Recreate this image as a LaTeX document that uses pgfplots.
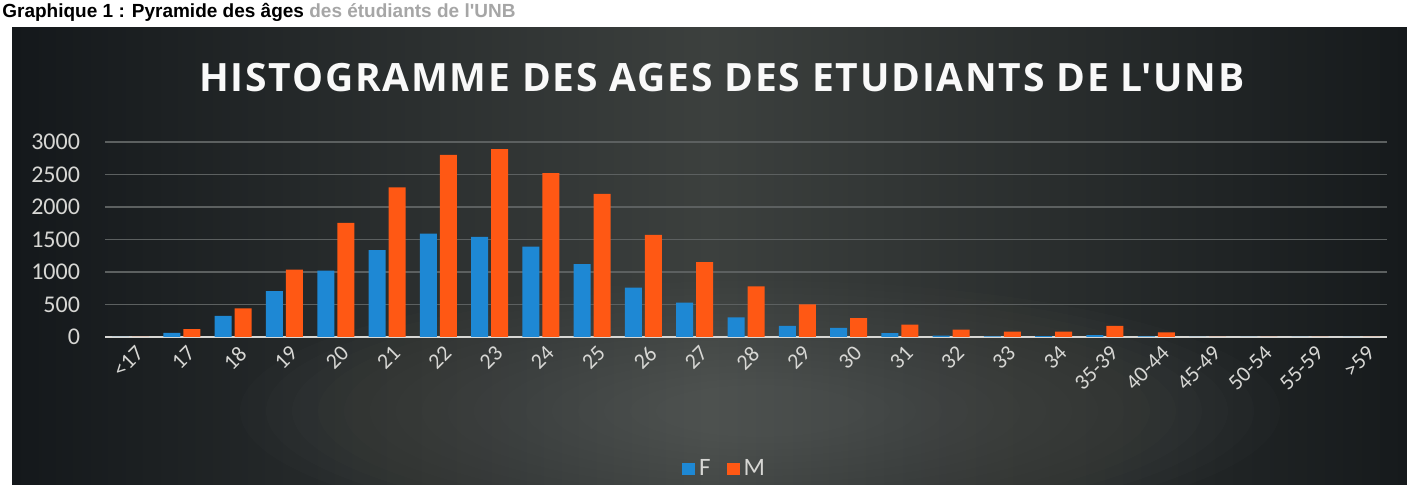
\documentclass[border=0pt]{standalone}
\usepackage{fontspec}
\setmainfont{Carlito}
\newfontfamily\titlefont[LetterSpace=4.5]{Open Sans}
\newfontfamily\capfont{Liberation Sans}
\usepackage{pgfplots}
\pgfplotsset{compat=1.18}
\definecolor{barF}{RGB}{30,136,212}
\definecolor{barM}{RGB}{255,88,20}
\definecolor{txt}{RGB}{215,215,212}
\definecolor{gridc}{RGB}{92,96,96}
\definecolor{bgL}{RGB}{20,24,27}
\definecolor{bgM}{RGB}{60,64,62}
\definecolor{bgR}{RGB}{22,26,28}
\definecolor{glow}{RGB}{150,152,148}

\pgfplotstableread{
x F M
0 0 0
1 62 120
2 325 440
3 705 1035
4 1020 1755
5 1335 2300
6 1590 2800
7 1540 2890
8 1390 2520
9 1120 2200
10 760 1570
11 530 1150
12 300 780
13 170 500
14 140 290
15 60 190
16 20 113
17 10 83
18 15 83
19 30 170
20 10 72
21 0 0
22 0 0
23 0 0
24 0 0
}\agedata

\begin{document}
\begin{tikzpicture}
\path[use as bounding box] (0,0) rectangle (703.5pt,245.5pt);
\fill[white] (0,0) rectangle (703.5pt,245.5pt);
\shade[left color=bgL, right color=bgR, middle color=bgM] (6pt,3pt) rectangle (703.5pt,231.5pt);
\begin{scope}
\clip (6pt,3pt) rectangle (703.5pt,231.5pt);
\foreach \s in {1.0,0.95,...,0.15} {
  \fill[glow, opacity=0.018] (380pt,40pt) ellipse ({260pt*\s} and {65pt*\s});
}
\end{scope}
\node[anchor=base west, inner sep=0pt, font=\capfont\bfseries\fontsize{9.5}{11}\selectfont] at (1pt,236.5pt) {Graphique 1 : Pyramide des âges \textcolor{black!35}{des étudiants de l'UNB}};

\begin{axis}[
  at={(52.5pt,77pt)}, anchor=south west,
  scale only axis, width=641pt, height=97.5pt,
  ybar=1.5pt, bar width=8.5pt,
  xmin=-0.5, xmax=24.5, ymin=0, ymax=3000,
  xtick=data,
  xticklabels={<17,17,18,19,20,21,22,23,24,25,26,27,28,29,30,31,32,33,34,35-39,40-44,45-49,50-54,55-59,>59},
  ytick={0,500,...,3000},
  axis x line=bottom, axis y line=left,
  x axis line style={draw=txt, line width=1.1pt, -},
  y axis line style={draw=none},
  major tick length=0pt,
  ymajorgrids, grid style={gridc, line width=0.6pt},
  /pgf/number format/assume math mode=true,
  /pgf/number format/1000 sep={},
  yticklabel style={font=\fontsize{12}{14}\selectfont, color=txt, xshift=-9pt},
  xticklabel style={font=\fontsize{11}{13}\selectfont, color=txt, rotate=45, anchor=north east, yshift=-3pt, inner sep=1pt},
  legend columns=2,
  legend style={at={(0.484,-0.677)}, anchor=center, draw=none, fill=none,
    text=txt, font=\fontsize{12.5}{14}\selectfont,
    /tikz/every even column/.append style={column sep=6pt}},
  legend image code/.code={\fill[#1] (0pt,-3.2pt) rectangle (6.5pt,3.2pt);},
]
\addplot[fill=barF, draw=none] table[x=x, y=F] {\agedata};
\addplot[fill=barM, draw=none] table[x=x, y=M] {\agedata};
\legend{F,M}
\end{axis}
\node[font=\titlefont\bfseries\fontsize{19.5}{22}\selectfont, color=white!95!gray] at (361pt,206.5pt) {HISTOGRAMME DES AGES DES ETUDIANTS DE L'UNB};
\end{tikzpicture}
\end{document}
